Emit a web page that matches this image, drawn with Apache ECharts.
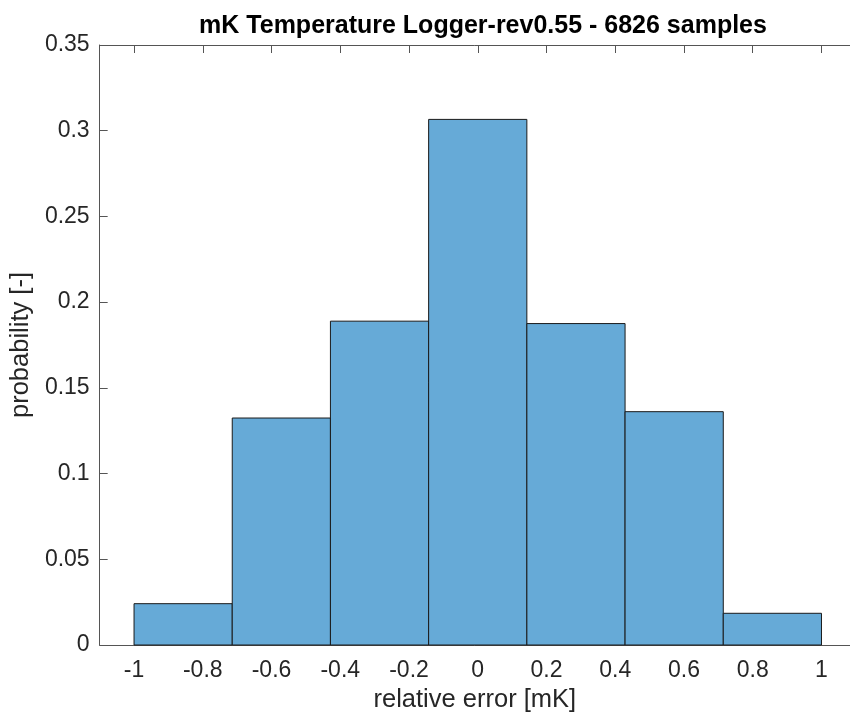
<!DOCTYPE html>
<html>
<head>
<meta charset="utf-8">
<script src="https://cdn.jsdelivr.net/npm/echarts@6/dist/echarts.min.js"></script>
<style>html,body{margin:0;padding:0;background:#fff}#c{width:850px;height:718px}</style>
</head>
<body>
<div id="c"></div>
<script>
var binEdges = [-1, -0.7143, -0.4286, -0.1429, 0.1429, 0.4286, 0.7143, 1];
var probabilities = [0.0241, 0.1324, 0.1889, 0.3066, 0.1875, 0.1361, 0.0185];
var xTicks = [-1, -0.8, -0.6, -0.4, -0.2, 0, 0.2, 0.4, 0.6, 0.8, 1];
var yTicks = [0, 0.05, 0.1, 0.15, 0.2, 0.25, 0.3, 0.35];
var titleText = 'mK Temperature Logger-rev0.55 - 6826 samples';
var xName = 'relative error [mK]';
var yName = 'probability [-]';

var bins = probabilities.map(function (p, i) { return [binEdges[i], binEdges[i + 1], p]; });
var font = 'Liberation Sans, Arial, Helvetica, sans-serif';
var axisCol = '#555555';
var textCol = '#262626';

var chart = echarts.init(document.getElementById('c'), null, {renderer: 'canvas'});
chart.setOption({
  animation: false,
  title: {
    text: titleText, left: 478, top: 9, textAlign: 'center',
    textStyle: {fontFamily: font, fontWeight: 'bold', fontSize: 25, color: '#000'}
  },
  grid: {left: 98, top: 45, right: 0, height: 601, containLabel: false},
  xAxis: [{
    type: 'value', min: -1.1, max: 1.083, position: 'bottom',
    name: xName, nameLocation: 'middle', nameGap: 42,
    nameTextStyle: {fontFamily: font, fontSize: 25.5, color: textCol},
    axisLine: {show: true, onZero: false, lineStyle: {color: axisCol, width: 1}},
    axisTick: {show: true, inside: true, length: 8, customValues: xTicks, lineStyle: {color: axisCol}},
    axisLabel: {customValues: xTicks, margin: 14, fontFamily: font, fontSize: 23, color: textCol,
      formatter: function (v) { return String(Math.round(v * 10) / 10); }},
    splitLine: {show: false}
  }, {
    type: 'value', min: -1.1, max: 1.083, position: 'top',
    axisLine: {show: true, onZero: false, lineStyle: {color: axisCol, width: 1}},
    axisTick: {show: true, inside: true, length: 8, customValues: xTicks, lineStyle: {color: axisCol}},
    axisLabel: {show: false},
    splitLine: {show: false}
  }],
  yAxis: [{
    type: 'value', min: 0, max: 0.35, position: 'left',
    name: yName, nameLocation: 'middle', nameGap: 63, nameRotate: 90,
    nameTextStyle: {fontFamily: font, fontSize: 25.5, color: textCol},
    axisLine: {show: true, onZero: false, lineStyle: {color: axisCol, width: 1}},
    axisTick: {show: true, inside: true, length: 8, customValues: yTicks, lineStyle: {color: axisCol}},
    axisLabel: {customValues: yTicks, margin: 10, fontFamily: font, fontSize: 23, color: textCol,
      formatter: function (v) { return String(Math.round(v * 100) / 100); }},
    splitLine: {show: false}
  }],
  series: [{
    type: 'custom',
    xAxisIndex: 0, yAxisIndex: 0,
    data: bins,
    encode: {x: [0, 1], y: 2},
    renderItem: function (params, api) {
      var p0 = api.coord([api.value(0), api.value(2)]);
      var p1 = api.coord([api.value(1), 0]);
      return {
        type: 'rect',
        shape: {x: p0[0], y: p0[1], width: p1[0] - p0[0], height: p1[1] - p0[1]},
        style: {fill: 'rgb(102,170,215)', stroke: '#1a1a1a', lineWidth: 1}
      };
    }
  }]
});
</script>
</body>
</html>
